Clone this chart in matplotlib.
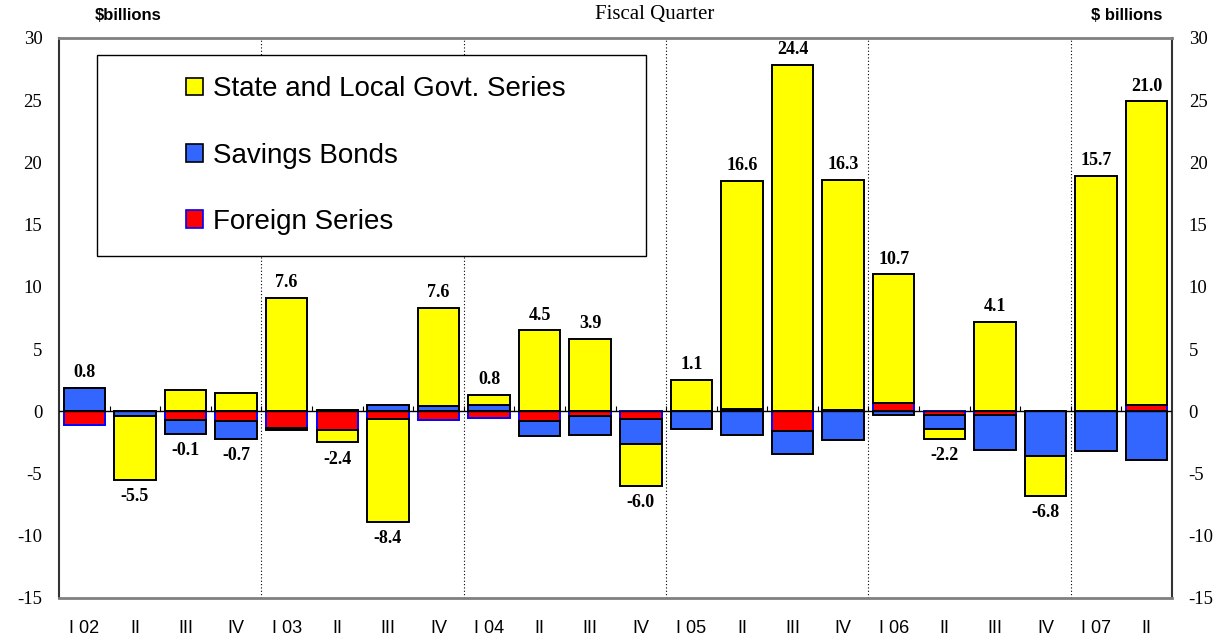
import numpy as np
import matplotlib
matplotlib.use("Agg")
import matplotlib.pyplot as plt
from matplotlib.patches import Patch, Rectangle

plt.rcParams["axes.unicode_minus"] = False

quarters = ["I 02", "II", "III", "IV", "I 03", "II", "III", "IV", "I 04", "II", "III", "IV",
            "I 05", "II", "III", "IV", "I 06", "II", "III", "IV", "I 07", "II"]
slgs = [0.0, -5.1, 1.7, 1.5, 9.1, -1.0, -8.3, 7.9, 0.8, 6.5, 5.8, -3.4,
        2.5, 18.3, 27.8, 18.5, 10.3, -0.8, 7.2, -3.2, 18.9, 24.4]
savings = [1.9, -0.4, -1.1, -1.4, -0.2, 0.1, 0.5, 0.4, 0.5, -1.2, -1.5, -2.0,
           -1.4, -1.9, -1.8, -2.3, -0.3, -1.1, -2.8, -3.6, -3.2, -3.9]
foreign = [-1.1, 0.0, -0.7, -0.8, -1.3, -1.5, -0.6, -0.7, -0.5, -0.8, -0.4, -0.6,
           0.0, 0.2, -1.6, 0.1, 0.7, -0.3, -0.3, 0.0, 0.0, 0.5]
totals = [0.8, -5.5, -0.1, -0.7, 7.6, -2.4, -8.4, 7.6, 0.8, 4.5, 3.9, -6.0,
          1.1, 16.6, 24.4, 16.3, 10.7, -2.2, 4.1, -6.8, 15.7, 21.0]
year_breaks = [3.5, 7.5, 11.5, 15.5, 19.5]

series = [
    ("Foreign Series", foreign, "#FF0000", "#0000FF"),
    ("Savings Bonds", savings, "#3366FF", "black"),
    ("State and Local Govt. Series", slgs, "#FFFF00", "black"),
]

fig = plt.figure(figsize=(12.32, 6.37), dpi=100)
ax = fig.add_axes([59 / 1232, 1 - 598 / 637, (1172 - 59) / 1232, 560 / 637])

x = np.arange(len(quarters))
pos = np.zeros(len(x))
neg = np.zeros(len(x))
for name, vals, fc, ec in series:
    v = np.array(vals)
    bottoms = np.where(v >= 0, pos, neg)
    ax.bar(x, v, width=0.82, bottom=bottoms, color=fc, edgecolor=ec, linewidth=1.4, zorder=3)
    pos = pos + np.where(v >= 0, v, 0)
    neg = neg + np.where(v < 0, v, 0)

for i, t in enumerate(totals):
    if t >= 0:
        ax.annotate(f"{t:.1f}", (x[i], pos[i]), xytext=(0, 5), textcoords="offset points",
                    ha="center", va="bottom", fontsize=13, fontweight="bold", family="Liberation Serif")
    else:
        ax.annotate(f"{t:.1f}", (x[i], neg[i]), xytext=(0, -6), textcoords="offset points",
                    ha="center", va="top", fontsize=13, fontweight="bold", family="Liberation Serif")

for b in year_breaks:
    ax.axvline(b, color="black", linestyle=(0, (1, 2)), linewidth=0.8, zorder=1)

ax.axhline(0, color="black", linewidth=1.0, zorder=4)
ax.vlines(np.arange(0.5, len(x) - 1), 0, 0.45, color="black", linewidth=0.8, zorder=4)

ax.set_xlim(-0.5, len(x) - 0.5)
ax.set_ylim(-15, 30)
ax.set_yticks(np.arange(-15, 31, 5))
ax.set_xticks(x)
ax.set_xticklabels(quarters, family="Liberation Sans", fontsize=13)
ax.tick_params(axis="x", length=0, pad=16)
ax.tick_params(axis="y", which="both", left=True, right=True, labelleft=True, labelright=True,
               length=0, labelsize=13.5, pad=12)
for lab in ax.get_yticklabels():
    lab.set_family("Liberation Serif")

for s in ["top", "bottom"]:
    ax.spines[s].set_color("#808080")
    ax.spines[s].set_linewidth(2)
for s in ["left", "right"]:
    ax.spines[s].set_color("#333333")
    ax.spines[s].set_linewidth(1.5)

# legend box
x0, x1 = (97 - 59) / 1113, (646 - 59) / 1113
y0, y1 = (598 - 256) / 560, (598 - 55) / 560
ax.add_patch(Rectangle((x0, y0), x1 - x0, y1 - y0, transform=ax.transAxes,
                       facecolor="white", edgecolor="black", linewidth=1.0, zorder=5))
handles = [Patch(facecolor=fc, edgecolor=ec, linewidth=1.2, label=name) for name, _, fc, ec in reversed(series)]
leg = ax.legend(handles=handles, loc="center", bbox_to_anchor=((x0 + x1) / 2 + 0.004, (y0 + y1) / 2),
                bbox_transform=ax.transAxes, frameon=False,
                prop={"family": "Liberation Sans", "size": 20},
                handlelength=0.6, handleheight=0.6, handletextpad=0.35, labelspacing=1.45)
leg.set_zorder(6)

fig.text(128 / 1232, 1 - 15 / 637, "$billions", ha="center", va="center", fontsize=12,
         fontweight="bold", family="Liberation Sans")
fig.text(655 / 1232, 1 - 15 / 637, "Fiscal Quarter", ha="center", va="center", fontsize=15,
         family="Liberation Serif")
fig.text(1127 / 1232, 1 - 15 / 637, "$ billions", ha="center", va="center", fontsize=12,
         fontweight="bold", family="Liberation Sans")

fig.savefig("out.png", dpi=100)
